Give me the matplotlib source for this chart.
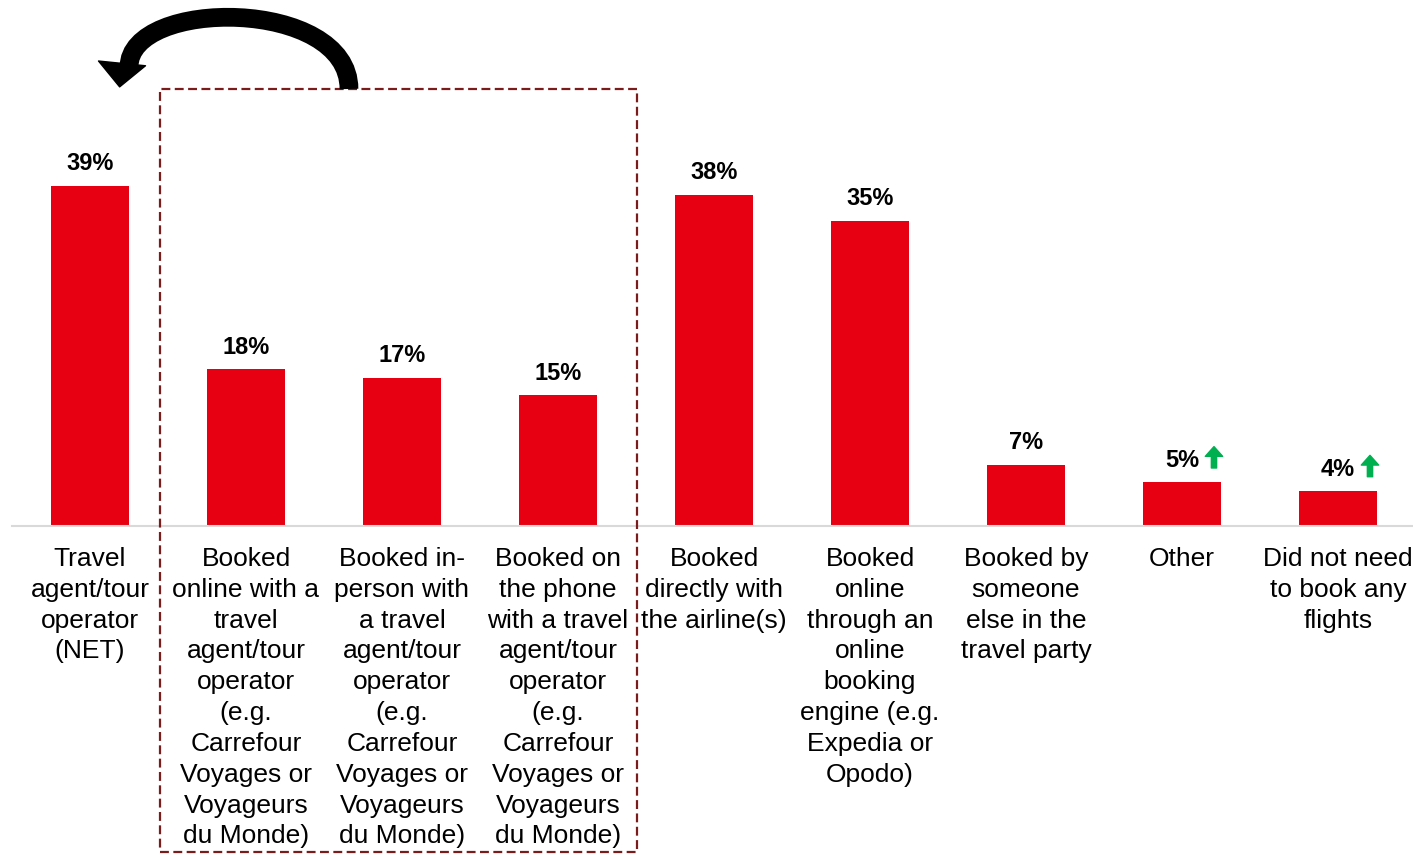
import matplotlib.pyplot as plt
from matplotlib.patches import FancyArrowPatch, PathPatch, Rectangle
from matplotlib.path import Path

plt.rcParams['font.family'] = ['Liberation Sans', 'DejaVu Sans']

labels = [
    'Travel\nagent/tour\noperator\n(NET)',
    'Booked\nonline with a\ntravel\nagent/tour\noperator\n(e.g.\nCarrefour\nVoyages or\nVoyageurs\ndu Monde)',
    'Booked in-\nperson with\na travel\nagent/tour\noperator\n(e.g.\nCarrefour\nVoyages or\nVoyageurs\ndu Monde)',
    'Booked on\nthe phone\nwith a travel\nagent/tour\noperator\n(e.g.\nCarrefour\nVoyages or\nVoyageurs\ndu Monde)',
    'Booked\ndirectly with\nthe airline(s)',
    'Booked\nonline\nthrough an\nonline\nbooking\nengine (e.g.\nExpedia or\nOpodo)',
    'Booked by\nsomeone\nelse in the\ntravel party',
    'Other',
    'Did not need\nto book any\nflights',
]
values = [39, 18, 17, 15, 38, 35, 7, 5, 4]
rising = [7, 8]  # bars flagged with a green up arrow

bar_red = '#E60012'
box_red = '#7B1C1C'
up_green = '#00B050'

fig = plt.figure(figsize=(14.13, 8.56), dpi=100)
ax = fig.add_axes([12 / 1413, 330 / 856, 1404 / 1413, 526 / 856])

x = list(range(len(values)))
ax.bar(x, values, width=0.5, color=bar_red, zorder=2)

for xi, v in zip(x, values):
    ax.text(xi, v + 1.2, f'{v}%', ha='center', va='bottom',
            fontsize=17, fontweight='bold', color='black')

for i in rising:
    up = FancyArrowPatch((i + 0.205, values[i] + 1.65), (i + 0.205, values[i] + 4.1),
                         arrowstyle='simple,head_length=0.7,head_width=1.25,tail_width=0.38',
                         mutation_scale=10, color=up_green, shrinkA=0, shrinkB=0,
                         clip_on=False, zorder=4)
    ax.add_patch(up)

ax.set_xlim(-0.5, 8.5)
ax.set_ylim(0, 60.3)
ax.set_xticks(x)
ax.set_xticklabels(labels, fontsize=19, linespacing=1.36)
ax.tick_params(axis='x', length=0, pad=15)
ax.set_yticks([])
for side in ['top', 'right', 'left']:
    ax.spines[side].set_visible(False)
ax.spines['bottom'].set_color('#D9D9D9')
ax.spines['bottom'].set_linewidth(1.5)

# dashed frame around the three travel-agent channels
box = Rectangle((0.45, -37.4), 3.056, 87.5, fill=False, edgecolor=box_red,
                linestyle=(0, (4, 2)), linewidth=1.6, clip_on=False, zorder=3)
ax.add_patch(box)

# curved arrow rolling the channels up into the NET bar: shaft, then head
shaft = Path([(1.66, 50.1), (1.66, 60.6), (0.25, 60.6), (0.25, 52.6)],
             [Path.MOVETO, Path.CURVE4, Path.CURVE4, Path.CURVE4])
ax.add_patch(PathPatch(shaft, fill=False, edgecolor='black', linewidth=13.5,
                       capstyle='butt', clip_on=False, zorder=4))
head = FancyArrowPatch((0.205, 53.0), (0.19, 50.34),
                       arrowstyle='simple,head_length=1.7,head_width=3.4,tail_width=0.01',
                       mutation_scale=10, color='black', shrinkA=0, shrinkB=0,
                       clip_on=False, zorder=4)
ax.add_patch(head)

fig.savefig('out.png', dpi=100)
